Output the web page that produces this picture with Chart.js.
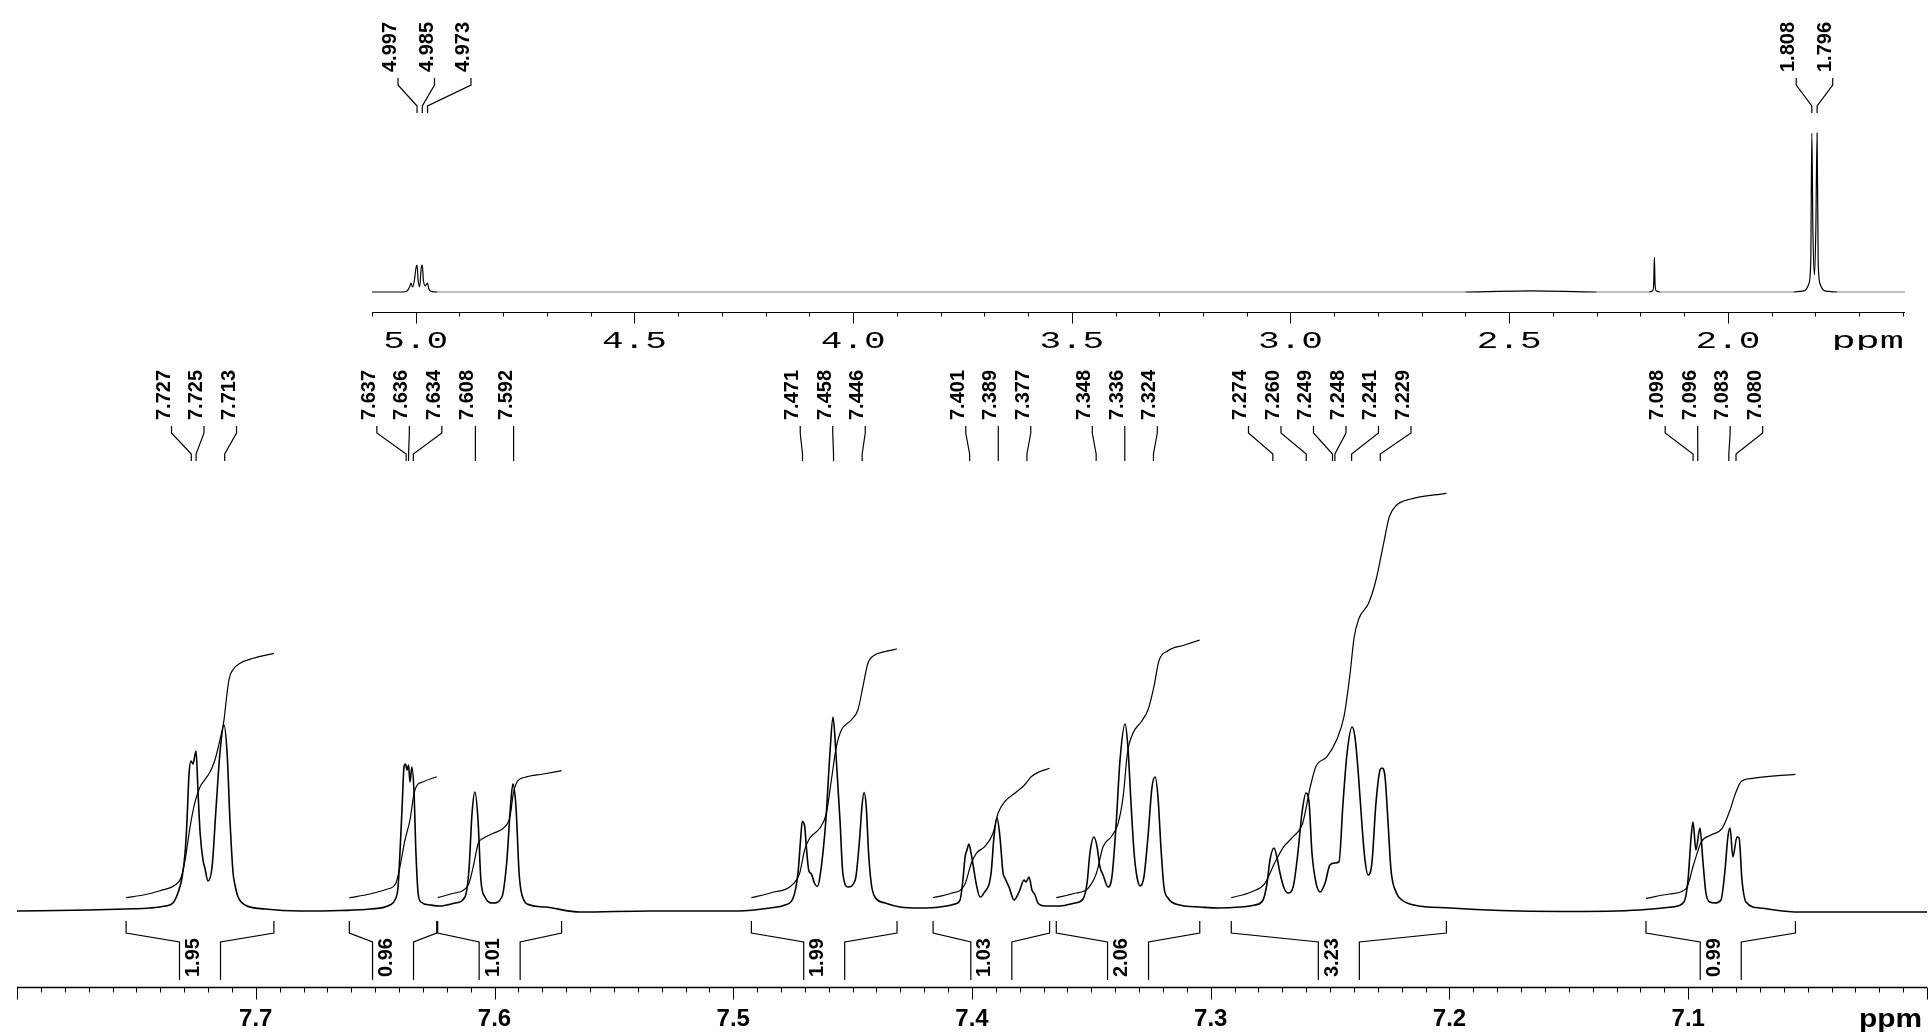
<!DOCTYPE html>
<html lang="en">
<head>
<meta charset="UTF-8">
<title>1H NMR</title>
<script src="https://cdn.jsdelivr.net/npm/chart.js"></script>
<style>
  html, body { margin: 0; padding: 0; background: #fff; }
  body { width: 1930px; height: 1035px; position: relative; overflow: hidden; }
  #inset { position: absolute; left: 372px; top: 0; }
  #main { position: absolute; left: 0; top: 350px; }
</style>
</head>
<body>
<canvas id="inset" width="1533" height="350"></canvas>
<canvas id="main" width="1930" height="685"></canvas>
<script>
// ---- inset (full range) ----
const insetTickLabels = ['5.0', '4.5', '4.0', '3.5', '3.0', '2.5', '2.0'];
const insetPeakLabels = ['4.997', '4.985', '4.973', '1.808', '1.796'];
// [ppm, intensity]
const insetSpectrum = [
  [5.100, 0], [5.030, 0], [5.020, 0.5], [5.014, 2.5], [5.011, 4.5], [5.007, 2.5],
  [5.003, 6], [4.9995, 12], [4.997, 13.5], [4.9945, 6], [4.991, 2.5], [4.9875, 12],
  [4.985, 13.5], [4.9825, 6], [4.978, 3], [4.9755, 3.8], [4.973, 4.5], [4.970, 1.5],
  [4.965, 0.3], [4.950, 0], [2.600, 0], [2.450, 0.6], [2.300, 0], [2.180, 0],
  [2.172, 0.6], [2.1695, 4], [2.168, 17.5], [2.1665, 4], [2.164, 0.6], [2.155, 0],
  [1.850, 0], [1.830, 0.4], [1.822, 1.0], [1.815, 4], [1.8105, 15], [1.808, 79.5],
  [1.8055, 30], [1.802, 8.5], [1.799, 30], [1.796, 79.5], [1.7935, 15], [1.789, 4],
  [1.782, 1.0], [1.770, 0.3], [1.750, 0], [1.595, 0]
];

// ---- main (aromatic expansion) ----
const mainTickLabels = ['7.7', '7.6', '7.5', '7.4', '7.3', '7.2', '7.1'];
const peakLabels = ['7.727', '7.725', '7.713', '7.637', '7.636', '7.634', '7.608', '7.592',
  '7.471', '7.458', '7.446', '7.401', '7.389', '7.377', '7.348', '7.336', '7.324',
  '7.274', '7.260', '7.249', '7.248', '7.241', '7.229', '7.098', '7.096', '7.083', '7.080'];
const integralValues = ['1.95', '0.96', '1.01', '1.99', '1.03', '2.06', '3.23', '0.99'];

const spectrum = [
  [7.800, 0], [7.770, 0.2], [7.7543, 0.4], [7.7443, 0.6], [7.7380, 1.0], [7.7347, 1.6],
  [7.7326, 3.6], [7.7309, 6.6], [7.7296, 11.6], [7.7288, 18.0], [7.7280, 27.0],
  [7.7271, 30.0], [7.7263, 29.4], [7.7250, 32.0], [7.7242, 24.0], [7.7233, 15.6],
  [7.7221, 10.2], [7.7213, 8.6], [7.7200, 6.0], [7.7183, 8.8], [7.7166, 20.8],
  [7.7150, 31.6], [7.7133, 37.2], [7.7120, 31.6], [7.7108, 18.2], [7.7095, 7.6],
  [7.7087, 5.2], [7.7074, 2.8], [7.7045, 1.2], [7.6961, 0.4], [7.6815, 0],
  [7.6647, 0.1], [7.6521, 0.4], [7.6438, 1.2], [7.6417, 2.2], [7.6404, 4.8],
  [7.6396, 11.6], [7.6387, 20.8], [7.6379, 28.8], [7.6373, 29.4], [7.6366, 28.2],
  [7.6360, 29.2], [7.6354, 25.8], [7.6346, 28.8], [7.6337, 23.6], [7.6329, 11.6],
  [7.6320, 3.6], [7.6308, 1.8], [7.6270, 1.2], [7.6228, 1.0], [7.6165, 1.6],
  [7.6124, 2.8], [7.6107, 8.2], [7.6094, 19.6], [7.6082, 23.8], [7.6069, 18.2],
  [7.6057, 6.2], [7.6040, 2.8], [7.6006, 1.6], [7.5969, 2.8], [7.5948, 10.2],
  [7.5935, 19.6], [7.5923, 25.4], [7.5910, 20.8], [7.5897, 7.6], [7.5885, 3.2],
  [7.5851, 1.2], [7.5788, 0.8], [7.5642, -0.2], [7.5349, 0], [7.4980, 0],
  [7.4846, 0.6], [7.4783, 1.2], [7.4750, 2.5], [7.4729, 7.5], [7.4717, 14.9],
  [7.4711, 17.9], [7.4701, 17.0], [7.4694, 12.9], [7.4684, 8.2], [7.4673, 7.4],
  [7.4659, 5.5], [7.4648, 4.9], [7.4637, 6.8], [7.4612, 18.2], [7.4595, 31.6],
  [7.4582, 38.8], [7.4570, 31.6], [7.4553, 18.2], [7.4541, 7.6], [7.4519, 4.8],
  [7.4489, 6.2], [7.4470, 14.9], [7.4461, 20.9], [7.4452, 23.7], [7.4443, 20.9],
  [7.4433, 11.5], [7.4422, 5.5], [7.4408, 2.9], [7.4364, 1.6], [7.4302, 0.8],
  [7.4218, 0.6], [7.4134, 0.8], [7.4071, 1.4], [7.4050, 2.2], [7.4038, 6.2],
  [7.4029, 10.8], [7.4021, 12.2], [7.4013, 13.4], [7.4004, 11.6], [7.3992, 8.2],
  [7.3983, 5.6], [7.3966, 2.8], [7.3950, 3.6], [7.3920, 7.6], [7.3908, 14.8],
  [7.3895, 18.6], [7.3883, 14.8], [7.3870, 7.6], [7.3862, 6.6], [7.3845, 4.8],
  [7.3824, 2.2], [7.3803, 3.8], [7.3782, 6.2], [7.3774, 5.8], [7.3761, 6.8],
  [7.3749, 4.2], [7.3736, 3.2], [7.3724, 1.6], [7.3694, 1.0], [7.3631, 1.0],
  [7.3569, 1.6], [7.3535, 2.4], [7.3518, 5.6], [7.3506, 11.6], [7.3489, 14.8],
  [7.3476, 12.8], [7.3464, 8.8], [7.3451, 7.2], [7.3430, 4.8], [7.3414, 6.8],
  [7.3397, 16.8], [7.3380, 30.2], [7.3359, 37.4], [7.3347, 32.8], [7.3334, 21.6],
  [7.3321, 11.6], [7.3309, 6.8], [7.3296, 5.0], [7.3280, 6.8], [7.3263, 14.8],
  [7.3246, 24.8], [7.3233, 26.8], [7.3221, 22.8], [7.3208, 12.2], [7.3196, 4.8],
  [7.3179, 2.6], [7.3129, 1.2], [7.3045, 0.8], [7.2970, 0.6], [7.2878, 0.8],
  [7.2815, 1.2], [7.2781, 2.2], [7.2764, 5.6], [7.2752, 10.2], [7.2735, 12.6],
  [7.2723, 10.8], [7.2710, 7.6], [7.2693, 4.6], [7.2676, 3.6], [7.2655, 4.8],
  [7.2635, 11.6], [7.2618, 19.6], [7.2601, 23.6], [7.2588, 21.6], [7.2576, 11.6],
  [7.2559, 5.6], [7.2542, 3.8], [7.2521, 5.6], [7.2501, 9.2], [7.2480, 9.6],
  [7.2463, 9.8], [7.2446, 21.6], [7.2429, 31.6], [7.2408, 36.8], [7.2396, 34.8],
  [7.2383, 28.2], [7.2366, 16.8], [7.2354, 10.2], [7.2341, 7.2], [7.2325, 9.6],
  [7.2308, 21.6], [7.2291, 28.2], [7.2283, 28.6], [7.2270, 26.8], [7.2258, 18.2],
  [7.2245, 8.2], [7.2224, 3.8], [7.2199, 2.2], [7.2149, 1.2], [7.1998, 0.6],
  [7.1789, 0.1], [7.1537, -0.1], [7.1202, 0.2], [7.1068, 0.8], [7.1018, 1.8],
  [7.1001, 6.2], [7.0988, 14.8], [7.0980, 17.8], [7.0968, 12.2], [7.0951, 16.6],
  [7.0938, 9.6], [7.0926, 3.6], [7.0909, 1.8], [7.0888, 1.6], [7.0863, 2.2],
  [7.0846, 8.2], [7.0834, 14.8], [7.0825, 16.6], [7.0813, 10.8], [7.0796, 14.8],
  [7.0787, 14.6], [7.0775, 6.2], [7.0758, 1.8], [7.0699, 0.6], [7.0532, -0.2],
  [7.0000, -0.2]
];

// integral curves, one per multiplet
const int1 = [[7.7543, 2.66], [7.7471, 3.2], [7.7401, 4.06], [7.7338, 5.2], [7.7314, 6.54],
  [7.7296, 10.2], [7.7275, 16.86], [7.7254, 21.86], [7.7233, 24.86], [7.7212, 26.34],
  [7.7191, 27.86], [7.7171, 30.2], [7.7150, 34.2], [7.7133, 38.2], [7.7122, 42.86],
  [7.7111, 46.54], [7.7094, 48.34], [7.7066, 49.54], [7.7011, 50.54], [7.6924, 51.54]];
const int2 = [[7.6608, 2.66], [7.6522, 3.4], [7.6452, 4.34], [7.6413, 5.54], [7.6396, 8.86],
  [7.6375, 14.2], [7.6354, 18.2], [7.6337, 23.54], [7.6326, 25.06], [7.6298, 25.86],
  [7.6242, 26.86]];
const int3 = [[7.6238, 2.66], [7.6172, 3.54], [7.6110, 5.2], [7.6089, 8.86], [7.6068, 13.54],
  [7.6047, 14.54], [7.6005, 15.54], [7.5956, 16.86], [7.5935, 18.86], [7.5921, 23.54],
  [7.5905, 25.86], [7.5872, 26.74], [7.5796, 27.4], [7.5719, 28.06]];
const int4 = [[7.4924, 2.66], [7.4841, 3.66], [7.4757, 5.06], [7.4722, 7.54], [7.4701, 12.2],
  [7.4680, 14.54], [7.4638, 16.54], [7.4610, 19.54], [7.4589, 26.2], [7.4568, 32.86],
  [7.4547, 36.2], [7.4506, 38.2], [7.4478, 40.2], [7.4457, 44.86], [7.4436, 49.54],
  [7.4408, 51.2], [7.4366, 51.86], [7.4314, 52.4]];
const int5 = [[7.4163, 2.66], [7.4087, 3.54], [7.4031, 5.2], [7.4003, 9.54], [7.3982, 11.54],
  [7.3947, 12.86], [7.3912, 15.54], [7.3891, 19.54], [7.3863, 21.86], [7.3821, 23.54],
  [7.3780, 25.2], [7.3752, 26.86], [7.3717, 27.86], [7.3675, 28.54]];
const int6 = [[7.3647, 2.66], [7.3570, 3.54], [7.3514, 4.54], [7.3479, 7.54], [7.3451, 12.86],
  [7.3417, 14.86], [7.3388, 17.54], [7.3367, 22.86], [7.3349, 31.54], [7.3326, 35.54],
  [7.3291, 37.86], [7.3263, 40.2], [7.3238, 44.86], [7.3218, 49.86], [7.3179, 52.06],
  [7.3109, 53.2], [7.3046, 54.2]];
const int7 = [[7.2914, 2.66], [7.2828, 3.86], [7.2773, 5.54], [7.2733, 9.54], [7.2694, 12.86],
  [7.2655, 14.86], [7.2615, 17.54], [7.2583, 24.86], [7.2560, 28.86], [7.2513, 30.86],
  [7.2473, 34.2], [7.2442, 38.86], [7.2418, 46.86], [7.2399, 54.86], [7.2379, 58.54],
  [7.2339, 61.54], [7.2308, 66.2], [7.2276, 73.54], [7.2252, 78.86], [7.2221, 81.2],
  [7.2166, 82.34], [7.2013, 83.54]];
const int8 = [[7.1177, 2.54], [7.1078, 3.4], [7.1008, 4.54], [7.0976, 9.54], [7.0945, 13.86],
  [7.0905, 15.2], [7.0858, 16.54], [7.0825, 20.2], [7.0802, 23.54], [7.0779, 25.86],
  [7.0732, 26.54], [7.0551, 27.34]];
const integralCurves = [int1, int2, int3, int4, int5, int6, int7, int8];

const toXY = pts => pts.map(p => ({ x: p[0], y: p[1] }));

// spreads label anchors so they are at least `gap` apart, centred on their peaks
function spread(xs, gap, minX) {
  const place = g => {
    const n = g.idx.length;
    g.start = g.c - (n - 1) * gap / 2;
    if (minX != null && g.start < minX) g.start = minX;
    g.end = g.start + (n - 1) * gap;
    return g;
  };
  let groups = xs.map((x, i) => place({ idx: [i], c: x }));
  let changed = true;
  while (changed) {
    changed = false;
    for (let i = 0; i < groups.length - 1; i++) {
      if (groups[i + 1].start - groups[i].end < gap - 0.01) {
        const idx = groups[i].idx.concat(groups[i + 1].idx);
        const c = idx.reduce((s, k) => s + xs[k], 0) / idx.length;
        groups.splice(i, 2, place({ idx, c }));
        changed = true;
        break;
      }
    }
  }
  const out = [];
  groups.forEach(g => g.idx.forEach((k, j) => { out[k] = g.start + j * gap; }));
  return out;
}

function vText(ctx, text, x, y) {
  ctx.save();
  ctx.translate(x, y);
  ctx.rotate(-Math.PI / 2);
  ctx.textAlign = 'left';
  ctx.textBaseline = 'alphabetic';
  ctx.fillText(text, 0, 0);
  ctx.restore();
}

function wideText(ctx, text, x, y, sx, align) {
  ctx.save();
  ctx.translate(x, y);
  ctx.scale(sx, 1);
  ctx.textAlign = align;
  ctx.textBaseline = 'middle';
  ctx.fillText(text, 0, 0);
  ctx.restore();
}

function drawLeaders(ctx, labels, pxs, gap, minX, ys, textY) {
  const tops = spread(pxs, gap, minX);
  ctx.strokeStyle = '#000';
  ctx.lineWidth = 1.2;
  ctx.fillStyle = '#000';
  ctx.font = 'bold 20px "Liberation Sans", Arial, sans-serif';
  labels.forEach((lbl, i) => {
    ctx.beginPath();
    ctx.moveTo(tops[i], ys[0]);
    ctx.lineTo(tops[i], ys[1]);
    ctx.lineTo(pxs[i], ys[2]);
    ctx.lineTo(pxs[i], ys[3]);
    ctx.stroke();
    vText(ctx, lbl, tops[i] - 2, textY);
  });
}

const insetDecor = {
  id: 'insetDecor',
  afterDraw(chart) {
    const ctx = chart.ctx, xs = chart.scales.x;
    const axisY = 312.5;
    ctx.save();
    ctx.strokeStyle = '#000';
    ctx.lineWidth = 1.2;
    ctx.beginPath();
    ctx.moveTo(xs.left, axisY);
    ctx.lineTo(xs.right, axisY);
    ctx.stroke();
    ctx.lineWidth = 1;
    for (let i = 16; i <= 51; i++) {
      const x = Math.round(xs.getPixelForValue(i / 10)) + 0.5;
      ctx.beginPath();
      ctx.moveTo(x, axisY);
      ctx.lineTo(x, axisY + (i % 5 === 0 ? 11 : 4));
      ctx.stroke();
    }
    ctx.fillStyle = '#000';
    ctx.font = '24px "Liberation Mono", "DejaVu Sans Mono", monospace';
    insetTickLabels.forEach(t => {
      wideText(ctx, t, xs.getPixelForValue(parseFloat(t)), 342, 1.5, 'center');
    });
    wideText(ctx, 'ppm', xs.right - 1, 342, 1.68, 'right');

    const pxs = insetPeakLabels.map(l => xs.getPixelForValue(parseFloat(l)));
    drawLeaders(ctx, insetPeakLabels, pxs, 36.5, xs.left + 26, [78, 85, 106, 113], 72);
    ctx.restore();
  }
};

const mainDecor = {
  id: 'mainDecor',
  afterDraw(chart) {
    const ctx = chart.ctx, xs = chart.scales.x;
    const axisY = 637.5;
    ctx.save();
    ctx.strokeStyle = '#000';
    ctx.lineWidth = 1.4;
    ctx.beginPath();
    ctx.moveTo(xs.left, axisY);
    ctx.lineTo(xs.right, axisY);
    ctx.stroke();
    ctx.lineWidth = 1;
    for (let i = 0; i <= 80; i++) {
      const x = Math.round(xs.getPixelForValue(7.0 + i / 100)) + 0.5;
      ctx.beginPath();
      ctx.moveTo(x, axisY);
      ctx.lineTo(x, axisY + (i % 10 === 0 ? 12 : 5));
      ctx.stroke();
    }
    ctx.fillStyle = '#000';
    ctx.font = 'bold 24px "Liberation Sans", Arial, sans-serif';
    ctx.textAlign = 'center';
    ctx.textBaseline = 'middle';
    mainTickLabels.forEach(t => ctx.fillText(t, xs.getPixelForValue(parseFloat(t)), 669));
    ctx.font = 'bold 26px "Liberation Sans", Arial, sans-serif';
    wideText(ctx, 'ppm', xs.right - 5, 670, 1.15, 'right');

    // integral brackets
    ctx.lineWidth = 1.2;
    integralCurves.forEach((curve, k) => {
      const x1 = xs.getPixelForValue(curve[0][0]);
      const x2 = xs.getPixelForValue(curve[curve.length - 1][0]);
      const c = (x1 + x2) / 2;
      ctx.beginPath();
      ctx.moveTo(x1, 571); ctx.lineTo(x1, 583); ctx.lineTo(c - 20.5, 592); ctx.lineTo(c - 20.5, 630);
      ctx.moveTo(x2, 571); ctx.lineTo(x2, 583); ctx.lineTo(c + 20.5, 592); ctx.lineTo(c + 20.5, 630);
      ctx.stroke();
      ctx.font = 'bold 20px "Liberation Sans", Arial, sans-serif';
      vText(ctx, integralValues[k], c - 1, 627);
    });

    const pxs = peakLabels.map(l => xs.getPixelForValue(parseFloat(l)));
    drawLeaders(ctx, peakLabels, pxs, 32.5, null, [76, 83, 104, 111], 70);
    ctx.restore();
  }
};

const baseOptions = (xmin, xmax, ymin, ymax, padding) => ({
  responsive: false,
  animation: false,
  devicePixelRatio: 1,
  events: [],
  layout: { padding },
  plugins: { legend: { display: false }, tooltip: { enabled: false } },
  scales: {
    x: { type: 'linear', min: xmin, max: xmax, reverse: true, display: false },
    y: { type: 'linear', min: ymin, max: ymax, display: false }
  }
});

const lineDs = (pts, width) => ({
  data: toXY(pts),
  borderColor: '#000',
  borderWidth: width,
  pointRadius: 0,
  fill: false,
  cubicInterpolationMode: 'monotone',
  clip: false
});

// long flat stretches of the full-range trace print lighter
const insetDs = Object.assign(lineDs(insetSpectrum, 1.2), {
  segment: {
    borderColor: s => (s.p0.parsed.y === 0 && s.p1.parsed.y === 0 &&
      Math.abs(s.p0.parsed.x - s.p1.parsed.x) > 0.1) ? '#808080' : '#000'
  }
});

new Chart(document.getElementById('inset'), {
  type: 'line',
  data: { datasets: [insetDs] },
  options: baseOptions(1.595, 5.10, -4, 96, { left: 0, right: 0, top: 100, bottom: 50 }),
  plugins: [insetDecor]
});

new Chart(document.getElementById('main'), {
  type: 'line',
  data: {
    datasets: [lineDs(spectrum, 1.6)].concat(integralCurves.map(c => lineDs(c, 1.2)))
  },
  options: baseOptions(7.00, 7.80, -7.8, 92.2, { left: 17, right: 3, top: 100, bottom: 85 }),
  plugins: [mainDecor]
});
</script>
</body>
</html>
